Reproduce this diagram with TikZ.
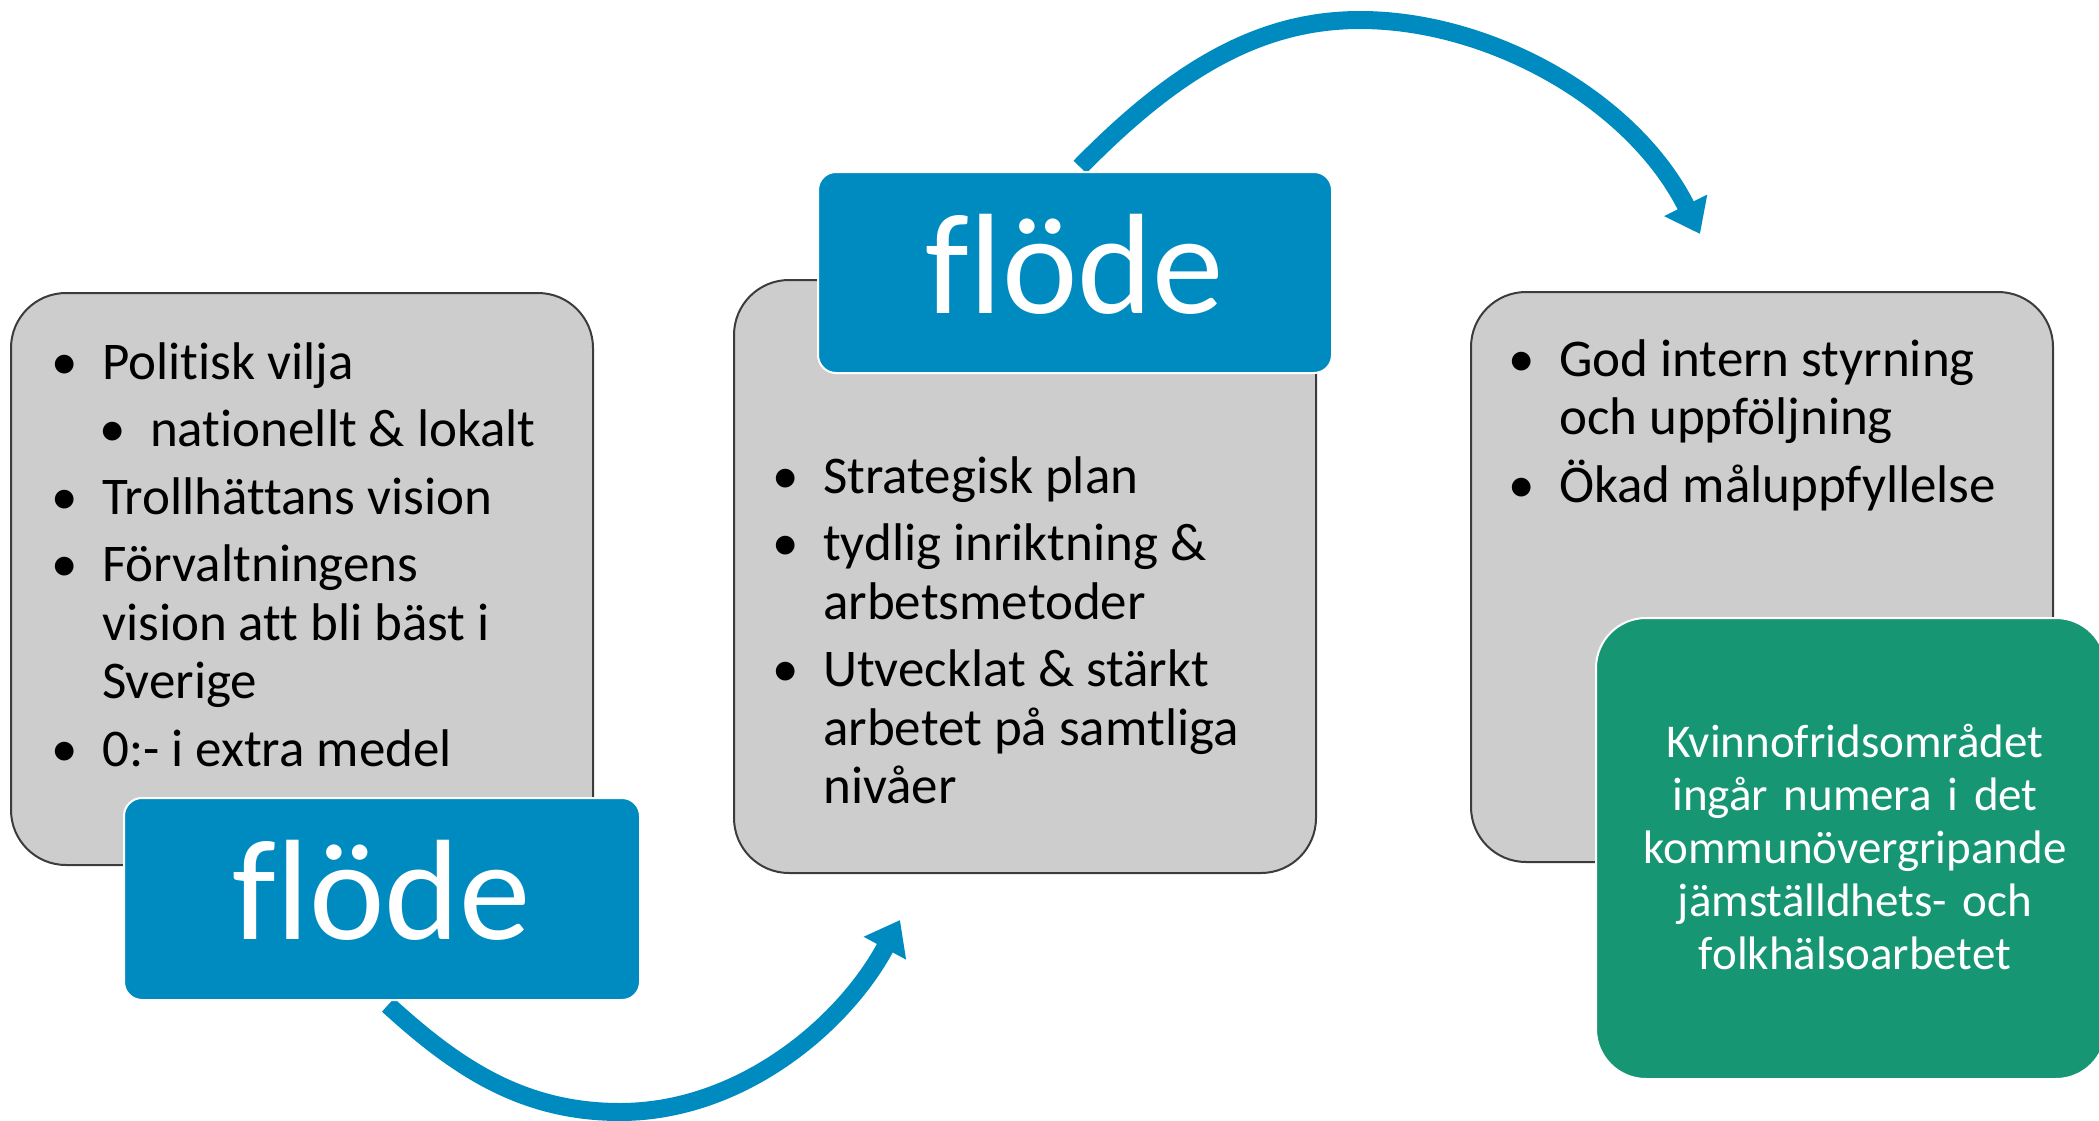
\documentclass[tikz,border=0pt]{standalone}
\usepackage{fontspec}
\setmainfont{Carlito}[Ligatures=NoCommon]
\usetikzlibrary{arrows.meta}
\definecolor{flblue}{RGB}{0,139,192}
\definecolor{boxgray}{RGB}{205,205,205}
\definecolor{boxline}{RGB}{60,60,60}
\definecolor{flgreen}{RGB}{22,150,115}
\newcommand\bpt{\leavevmode\llap{\makebox[0pt][c]{\textbullet}\hspace{38pt}}}
\newcommand\wsp{\spaceskip=0.226em\relax}
\newcommand\boxfont{\fontsize{53}{58.5}\selectfont\wsp}
\newcommand\greenfont{\fontsize{47}{53}\selectfont\wsp}
\newcommand\flodefont{\fontsize{143}{150}\selectfont\wsp}
\begin{document}
\sbox0{\boxfont a b}\sbox0{\greenfont a b}\sbox0{\flodefont a b}%
\begin{tikzpicture}[x=1pt,y=-1pt,
  graybox/.style={draw=boxline, line width=2pt, fill=boxgray, rounded corners=55pt, inner sep=0pt},
  bluebox/.style={draw=white, line width=2pt, fill=flblue, rounded corners=18pt, inner sep=0pt},
  greenbox/.style={draw=white, line width=2pt, fill=flgreen, rounded corners=50pt, inner sep=0pt},
  flowarrow/.style={draw=flblue, line width=18pt, -{Triangle[width=46pt,length=32pt]}},
  listtext/.style={anchor=base west, inner sep=0pt, text width=#1, align=left, font=\boxfont},
  flodetext/.style={anchor=base, inner sep=0pt, text=white, font=\flodefont},
]
\useasboundingbox (0,0) rectangle (2099,1121);
\clip (0,0) rectangle (2099,1121);

% gray boxes
\node (b1) [graybox, minimum width=582pt, minimum height=572pt] at (302,579) {};
\node (b2) [graybox, minimum width=582pt, minimum height=593pt] at (1025,576.5) {};
\node (b3) [graybox, minimum width=582pt, minimum height=570pt] at (1762,577) {};

% texts in gray boxes
\node (t1) [listtext=480pt] at (102,379) {\boxfont\setlength\parskip{9pt}%
\bpt Politisk vilja\par
{\leftskip=48pt \bpt nationellt \& lokalt\par}
\bpt Trollhättans vision\par
\bpt Förvaltningens\\vision att bli bäst i\\Sverige\par
\bpt 0:- i extra medel\par};
\node (t2) [listtext=480pt] at (823,493) {\boxfont\setlength\parskip{9pt}%
\bpt Strategisk plan\par
\bpt tydlig inriktning \&\\arbetsmetoder\par
\bpt Utvecklat \& stärkt\\arbetet på samtliga\\nivåer\par};
\node (t3) [listtext=480pt] at (1559,376) {\boxfont\setlength\parskip{9pt}%
\bpt God intern styrning\\och uppföljning\par
\bpt Ökad måluppfyllelse\par};

% arrows (drawn before the blue boxes, which cover their starts)
\coordinate (f1s) at (388,1005);
\coordinate (f2s) at (1080,167);
\coordinate (a1tip) at (900,920);
\coordinate (a2tip) at (1700,234);
\draw[flowarrow] (f1s) .. controls (454,1065) and (520,1112) .. (620,1112)
  .. controls (740,1112) and (843,1026) .. (a1tip);
\draw[flowarrow] (f2s) .. controls (1176,69) and (1260,20) .. (1360,20)
  .. controls (1490,20) and (1633,100) .. (a2tip);

% blue flow boxes
\node (f1) [bluebox, minimum width=516pt, minimum height=202pt] at (382,899) {};
\node (f2) [bluebox, minimum width=514pt, minimum height=201pt] at (1075,272.5) {};
\node (l1) [flodetext] at (382,939) {flöde};
\node (l2) [flodetext] at (1075,313) {flöde};

% green box
\node (g) [greenbox, minimum width=510pt, minimum height=461pt] at (1851,848.5) {};
\node (gt) [anchor=base, inner sep=0pt, text width=500pt, align=center, text=white, font=\greenfont] at (1855,757)
  {Kvinnofridsområdet\\ingår numera i det\\kommunövergripande\\jämställdhets- och\\folkhälsoarbetet};
\end{tikzpicture}
\end{document}
